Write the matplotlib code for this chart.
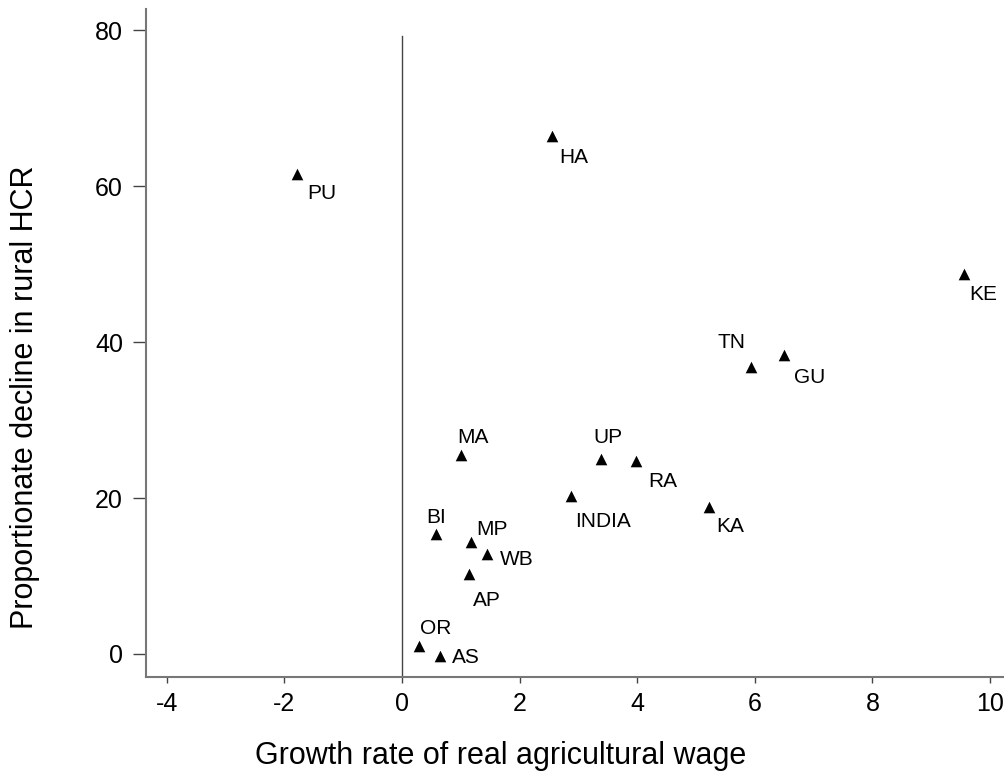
import matplotlib
matplotlib.use("Agg")
import matplotlib.pyplot as plt

plt.rcParams['font.family'] = ['Liberation Sans', 'DejaVu Sans']
plt.rcParams['axes.unicode_minus'] = False

# State-level growth of real agricultural wage vs decline in rural HCR
states = ['PU', 'HA', 'KE', 'TN', 'GU', 'MA', 'UP', 'RA', 'INDIA', 'KA',
          'BI', 'MP', 'WB', 'AP', 'OR', 'AS']
wage_growth = [-1.78, 2.55, 9.56, 5.94, 6.49, 1.00, 3.39, 3.98, 2.87, 5.23,
               0.58, 1.18, 1.44, 1.14, 0.29, 0.64]
hcr_decline = [61.6, 66.5, 48.8, 36.8, 38.3, 25.5, 24.96, 24.8, 20.26, 18.9,
               15.35, 14.4, 12.8, 10.26, 1.07, -0.26]

# label offsets in points (x right, y up)
label_dx = [18, 16, 14, -14, 19, 9, 5, 19, 23, 15, 0, 15, 22, 13, 12, 19]
label_dy = [-14, -16, -15, 18, -16, 13, 16, -15, -18, -14, 12, 9, -4, -19, 12, -1]

fig = plt.figure(figsize=(10.05, 7.81), dpi=100)
ax = fig.add_axes([0.1453, 0.1332, 0.998 - 0.1453, 0.988 - 0.1332])

ax.scatter(wage_growth, hcr_decline, marker='^', s=70, color='black',
           linewidths=0, zorder=3)
for name, x, y, dx, dy in zip(states, wage_growth, hcr_decline, label_dx, label_dy):
    ax.annotate(name, (x, y), xytext=(dx, dy), textcoords='offset points',
                ha='center', va='center', fontsize=15)

ax.set_xlim(-4.35, 10.22)
ax.set_ylim(-2.95, 82.7)
ax.plot([0, 0], [-2.95, 79.3], color='#444444', linewidth=1)

ax.set_xticks(range(-4, 11, 2))
ax.set_yticks(range(0, 81, 20))
ax.tick_params(axis='both', direction='out', width=1, color='#444444',
               labelsize=18)
ax.tick_params(axis='x', length=4, pad=7)
ax.tick_params(axis='y', length=9.5, pad=7)

for side in ['top', 'right']:
    ax.spines[side].set_visible(False)
for side in ['left', 'bottom']:
    ax.spines[side].set_color('#777777')
    ax.spines[side].set_linewidth(1.5)

ax.set_xlabel('Growth rate of real agricultural wage', fontsize=22,
              va='center', ha='center')
ax.set_ylabel('Proportionate decline in rural HCR', fontsize=22,
              va='center', ha='center')
ax.xaxis.set_label_coords(0.4139, -0.119)
ax.yaxis.set_label_coords(-0.1412, 0.4194)

fig.savefig('out.png', dpi=100)
